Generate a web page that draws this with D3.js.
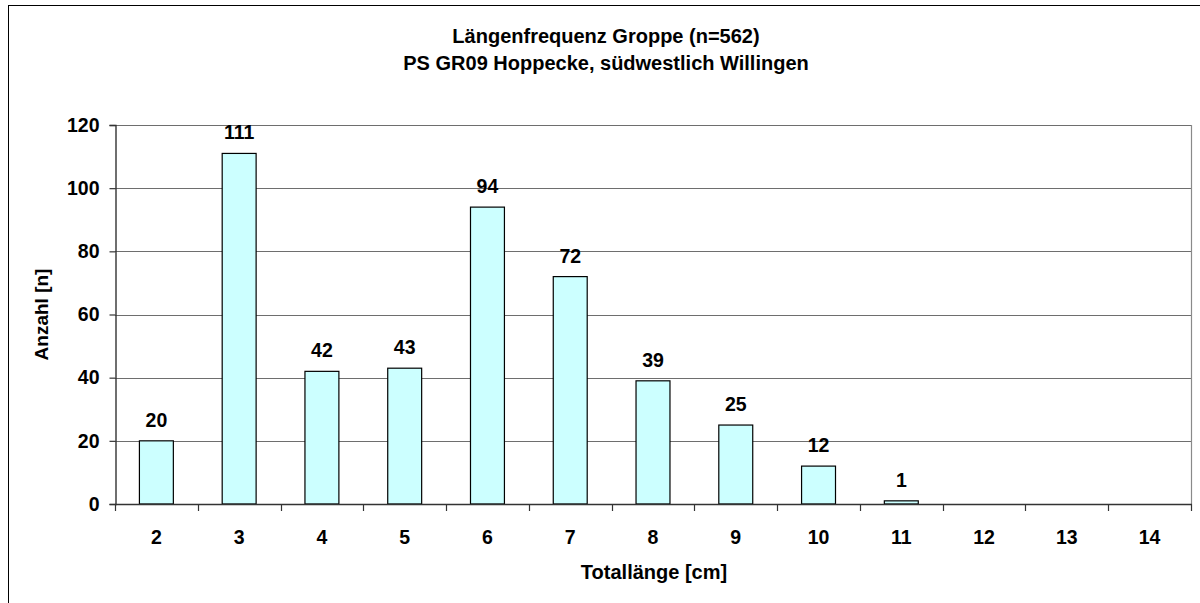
<!DOCTYPE html>
<html>
<head>
<meta charset="utf-8">
<script src="https://cdn.jsdelivr.net/npm/d3@7"></script>
<style>
  html, body { margin: 0; padding: 0; background: #fff; }
  svg { display: block; font-family: "Liberation Sans", Arial, sans-serif; }
</style>
</head>
<body>
<svg id="chart" width="1200" height="603"></svg>
<script>
// Length classes (cm) and fish counts per class
const lengthClasses = ["2", "3", "4", "5", "6", "7", "8", "9", "10", "11", "12", "13", "14"];
const counts = [20, 111, 42, 43, 94, 72, 39, 25, 12, 1, 0, 0, 0];
const yTicks = [0, 20, 40, 60, 80, 100, 120];
const titleLines = ["Längenfrequenz Groppe (n=562)", "PS GR09 Hoppecke, südwestlich Willingen"];
const xTitle = "Totallänge [cm]";
const yTitle = "Anzahl [n]";

const svg = d3.select("#chart");
const W = 1200, H = 603;
const plot = { left: 115, right: 1191, top: 125, bottom: 504 };
const FS = 19.5;

// Outer chart frame
svg.append("rect")
  .attr("x", 8.5).attr("y", 5.5)
  .attr("width", W + 20).attr("height", H + 20)
  .attr("fill", "#fff").attr("stroke", "#000").attr("stroke-width", 1);

const x = d3.scaleBand().domain(lengthClasses).range([plot.left, plot.right]).paddingInner(0.59).paddingOuter(0.295);
const xOuter = d3.scaleBand().domain(lengthClasses).range([plot.left, plot.right]).padding(0);
const y = d3.scaleLinear().domain([0, 120]).range([plot.bottom, plot.top]);

// Horizontal gridlines
svg.append("g").selectAll("line").data(yTicks.filter(t => t > 0)).join("line")
  .attr("x1", plot.left).attr("x2", plot.right)
  .attr("y1", d => Math.round(y(d)) + 0.5).attr("y2", d => Math.round(y(d)) + 0.5)
  .attr("stroke", "#6e6e6e").attr("stroke-width", 1.2);

// Right border of plot area
svg.append("line")
  .attr("x1", plot.right + 0.5).attr("x2", plot.right + 0.5)
  .attr("y1", plot.top).attr("y2", plot.bottom)
  .attr("stroke", "#8a8a8a").attr("stroke-width", 1.2);

// Bars
svg.append("g").selectAll("rect").data(counts).join("rect")
  .attr("x", (d, i) => x(lengthClasses[i]))
  .attr("y", d => y(d))
  .attr("width", x.bandwidth())
  .attr("height", d => y(0) - y(d))
  .attr("fill", "#ccffff")
  .attr("stroke", "#000").attr("stroke-width", 1.2)
  .attr("display", d => d > 0 ? null : "none");

// Value labels
svg.append("g").selectAll("text").data(counts).join("text")
  .filter(d => d > 0)
  .attr("x", (d, i) => x(lengthClasses[i]) + x.bandwidth() / 2)
  .attr("y", d => y(d) - 14)
  .attr("text-anchor", "middle")
  .attr("font-size", FS).attr("font-weight", "bold")
  .text(d => d);

// Y axis
const yAxis = svg.append("g")
  .attr("transform", `translate(${plot.left + 0.5},0)`)
  .call(d3.axisLeft(y).tickValues(yTicks).tickSize(6).tickPadding(10));
yAxis.select(".domain").attr("stroke", "#333").attr("stroke-width", 1.4);
yAxis.selectAll(".tick line").attr("stroke", "#333").attr("stroke-width", 1.2);
yAxis.selectAll(".tick text")
  .attr("font-size", FS).attr("font-weight", "bold")
  .attr("font-family", "Liberation Sans, Arial, sans-serif").attr("fill", "#000");

// X axis: ticks at category boundaries, labels centered in each class
const boundaries = lengthClasses.map(c => xOuter(c)).concat([plot.right]);
const xAxisG = svg.append("g");
xAxisG.append("line")
  .attr("x1", plot.left).attr("x2", plot.right + 1)
  .attr("y1", plot.bottom + 0.5).attr("y2", plot.bottom + 0.5)
  .attr("stroke", "#333").attr("stroke-width", 1.4);
xAxisG.selectAll("line.tk").data(boundaries).join("line")
  .attr("class", "tk")
  .attr("x1", d => Math.round(d) + 0.5).attr("x2", d => Math.round(d) + 0.5)
  .attr("y1", plot.bottom).attr("y2", plot.bottom + 7)
  .attr("stroke", "#333").attr("stroke-width", 1.2);
xAxisG.selectAll("text").data(lengthClasses).join("text")
  .attr("x", d => xOuter(d) + xOuter.bandwidth() / 2)
  .attr("y", 544)
  .attr("text-anchor", "middle")
  .attr("font-size", FS).attr("font-weight", "bold")
  .text(d => d);

// Axis titles
svg.append("text")
  .attr("x", 654).attr("y", 579)
  .attr("text-anchor", "middle")
  .attr("font-size", 20).attr("font-weight", "bold")
  .text(xTitle);
svg.append("text")
  .attr("transform", `translate(48,${(plot.top + plot.bottom) / 2}) rotate(-90)`)
  .attr("text-anchor", "middle")
  .attr("font-size", 19).attr("font-weight", "bold")
  .text(yTitle);

// Chart title
svg.append("g").selectAll("text").data(titleLines).join("text")
  .attr("x", 606)
  .attr("y", (d, i) => 43 + i * 27)
  .attr("text-anchor", "middle")
  .attr("font-size", 20).attr("font-weight", "bold")
  .text(d => d);
</script>
</body>
</html>
